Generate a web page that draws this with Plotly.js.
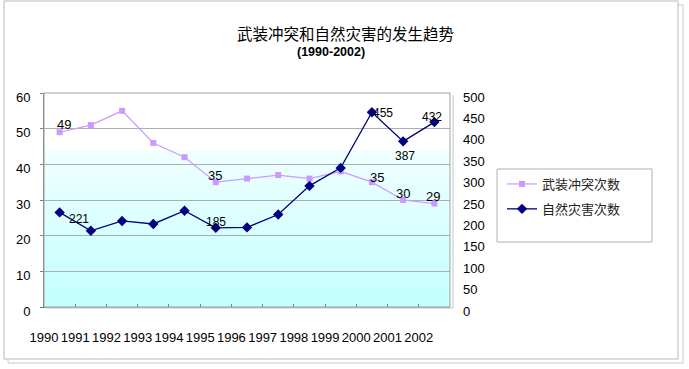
<!DOCTYPE html>
<html>
<head>
<meta charset="utf-8">
<script src="https://cdn.plot.ly/plotly-3.0.1.min.js"></script>
<style>html,body{margin:0;padding:0;background:#fff;}#chart{width:689px;height:369px;}</style>
</head>
<body>
<div id="chart"></div>
<script>
// ---- data ----
const years = ['1990','1991','1992','1993','1994','1995','1996','1997','1998','1999','2000','2001','2002'];
const armedConflicts = [49, 51, 55, 46, 42, 35, 36, 37, 36, 38, 35, 30, 29];
const naturalDisasters = [221, 178, 201, 194, 225, 185, 186, 216, 283, 325, 455, 387, 432];
const armedName = '武装冲突次数';
const disasterName = '自然灾害次数';
const titleText = '武装冲突和自然灾害的发生趋势';
const subtitleText = '(1990-2002)';
const armedLabelIdx = [0, 5, 10, 11, 12];
const disasterLabelIdx = [0, 5, 10, 11, 12];

// ---- styles (label offsets in px) ----
const armedLabelShift = [[4, 8], [-1, 7], [5, 5], [0, 7], [-1, 7]];
const disasterLabelShift = [[19, -7], [0, 6], [11, -1], [2, -15], [-2, 5]];

const L = 44, R = 450, T = 93, B = 307;
const W = R - L, H = B - T;
const px = x => (x - L) / W;
const py = y => (B - y) / H;

const numFont = 'Liberation Sans, Arial, sans-serif';
const cjkFont = 'Noto Sans CJK SC, sans-serif';

// x tick labels sit on category boundaries (as in the original Excel chart)
const xTickVals = years.map((_, i) => i - 0.5).concat([years.length - 0.5]);
const xTickText = years.concat(['']);

const grad = "<svg xmlns='http://www.w3.org/2000/svg' width='10' height='100' viewBox='0 0 10 100' preserveAspectRatio='none'>" +
  "<defs><linearGradient id='g' x1='0' y1='0' x2='0' y2='1'>" +
  "<stop offset='0' stop-color='#ffffff'/><stop offset='0.265' stop-color='#ffffff'/>" +
  "<stop offset='0.27' stop-color='#f0ffff'/><stop offset='1' stop-color='#c2ffff'/>" +
  "</linearGradient></defs><rect width='10' height='100' fill='url(#g)'/></svg>";
const gradURI = 'data:image/svg+xml;charset=utf-8,' + encodeURIComponent(grad);

const traces = [
  {
    x: years, y: armedConflicts, name: armedName, type: 'scatter', mode: 'lines+markers',
    line: {color: '#cc99ff', width: 1.2},
    marker: {symbol: 'square', size: 6, color: '#cc99ff'},
    yaxis: 'y', hoverinfo: 'x+y', legendgroup: 'g1'
  },
  {
    x: years, y: naturalDisasters, name: disasterName, type: 'scatter', mode: 'lines+markers',
    line: {color: '#000080', width: 1.3},
    marker: {symbol: 'diamond', size: 8, color: '#000080'},
    yaxis: 'y2', hoverinfo: 'x+y', legendgroup: 'g2'
  }
];

const annotations = [];
armedLabelIdx.forEach((i, k) => {
  annotations.push({
    x: i, y: armedConflicts[i], xref: 'x', yref: 'y',
    text: String(armedConflicts[i]), showarrow: false,
    xshift: armedLabelShift[k][0], yshift: armedLabelShift[k][1],
    font: {family: numFont, size: 13, color: '#000'}
  });
});
disasterLabelIdx.forEach((i, k) => {
  annotations.push({
    x: i, y: naturalDisasters[i], xref: 'x', yref: 'y2',
    text: String(naturalDisasters[i]), showarrow: false,
    xshift: disasterLabelShift[k][0], yshift: disasterLabelShift[k][1],
    font: {family: numFont, size: 12, color: '#000'}
  });
});
annotations.push({
  xref: 'paper', yref: 'paper', x: px(345), y: py(33), text: titleText, showarrow: false,
  xanchor: 'center', yanchor: 'middle', font: {family: cjkFont, size: 15.5, color: '#000'}
});
annotations.push({
  xref: 'paper', yref: 'paper', x: px(331), y: py(52), text: '<b>' + subtitleText + '</b>', showarrow: false,
  xanchor: 'center', yanchor: 'middle', font: {family: numFont, size: 12.5, color: '#000'}
});

const shapes = [
  // outer border + shadow
  {type: 'rect', xref: 'paper', yref: 'paper', x0: px(4), x1: px(678), y0: py(359), y1: py(1),
   line: {color: '#b8b8b8', width: 1}, layer: 'below'},
  {type: 'path', xref: 'paper', yref: 'paper',
   path: `M ${px(678)} ${py(5)} L ${px(683)} ${py(5)} L ${px(683)} ${py(363)} L ${px(8)} ${py(363)} L ${px(8)} ${py(359)}`,
   line: {color: '#c8c8c8', width: 1}, layer: 'below'},
  // plot frame + shadow
  {type: 'rect', xref: 'paper', yref: 'paper', x0: 0, x1: 1, y0: 0, y1: 1,
   line: {color: '#a0a0a0', width: 1}, layer: 'above'},
  {type: 'path', xref: 'paper', yref: 'paper',
   path: `M ${px(453)} ${py(T + 2)} L ${px(453)} ${py(B + 1)} L ${px(L + 2)} ${py(B + 1)}`,
   line: {color: '#c0c8c8', width: 1}, layer: 'above'},
  // legend box
  {type: 'rect', xref: 'paper', yref: 'paper', x0: px(497), x1: px(652), y0: py(242), y1: py(169),
   line: {color: '#b0b0b0', width: 1}, fillcolor: 'rgba(0,0,0,0)'}
];

const layout = {
  width: 689, height: 369,
  margin: {l: L, r: 689 - R, t: T, b: 369 - B, pad: 0},
  paper_bgcolor: '#ffffff', plot_bgcolor: 'rgba(0,0,0,0)',
  showlegend: true,
  legend: {
    x: px(502), y: py(169), xanchor: 'left', yanchor: 'top',
    bgcolor: 'rgba(0,0,0,0)', borderwidth: 0,
    font: {family: cjkFont, size: 13, color: '#222'},
    traceorder: 'grouped', tracegroupgap: 5
  },
  xaxis: {
    type: 'category', categoryorder: 'array', categoryarray: years,
    range: [-0.5, 12.5], tickmode: 'array', tickvals: xTickVals, ticktext: xTickText, tickangle: 0,
    ticks: 'inside', ticklen: 3, tickcolor: '#808080',
    showgrid: false, zeroline: false,
    showline: true, linecolor: '#808080', linewidth: 1,
    ticklabelshift: -2.5, ticklabelstandoff: 18,
    tickfont: {family: numFont, size: 13, color: '#000'}, fixedrange: true
  },
  yaxis: {
    range: [0, 60], dtick: 10, tick0: 0,
    ticks: 'outside', ticklen: 3, tickcolor: '#808080',
    showgrid: true, gridcolor: '#a8b0b0', gridwidth: 1, zeroline: false,
    showline: true, linecolor: '#808080', linewidth: 1,
    ticklabelshift: 4, ticklabelstandoff: 7,
    tickfont: {family: numFont, size: 13, color: '#000'}, fixedrange: true
  },
  yaxis2: {
    range: [0, 500], dtick: 50, tick0: 0, overlaying: 'y', side: 'right',
    ticks: '', showgrid: false, zeroline: false, showline: false,
    ticklabelshift: 4, ticklabelstandoff: 12,
    tickfont: {family: numFont, size: 13, color: '#000'}, fixedrange: true
  },
  images: [{
    source: gradURI, xref: 'paper', yref: 'paper', x: 0, y: 1, sizex: 1, sizey: 1,
    xanchor: 'left', yanchor: 'top', sizing: 'stretch', layer: 'below'
  }],
  annotations: annotations,
  shapes: shapes
};

Plotly.newPlot('chart', traces, layout, {displayModeBar: false, staticPlot: true});
</script>
</body>
</html>
